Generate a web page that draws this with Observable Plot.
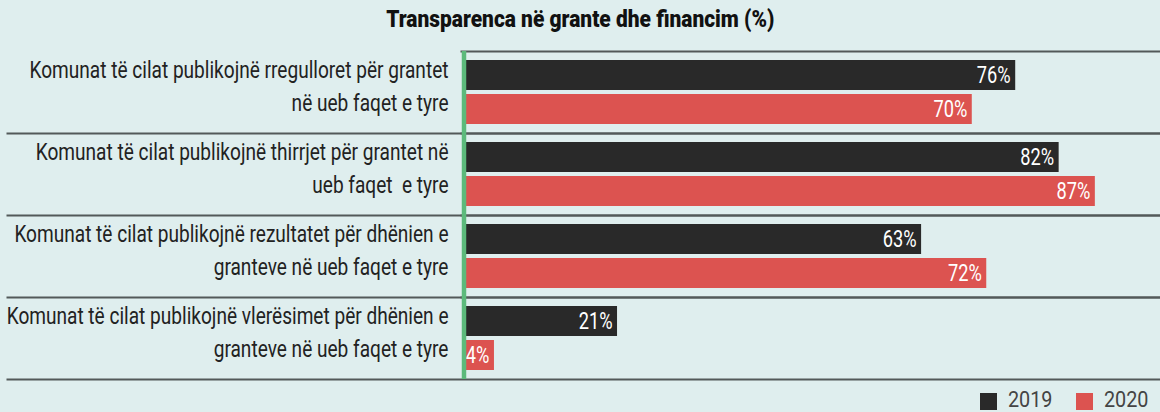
<!DOCTYPE html>
<html><head><meta charset="utf-8">
<script src="https://cdn.jsdelivr.net/npm/d3@7"></script>
<script src="https://cdn.jsdelivr.net/npm/@observablehq/plot@0.6"></script>
<style>
html,body{margin:0;padding:0;background:#dfeeee;width:1160px;height:412px;overflow:hidden;font-family:Roboto,sans-serif;}
#title{height:40px;line-height:40px;text-align:center;}
#title span{display:inline-block;font-weight:900;font-size:23px;color:#111;transform:scaleX(0.91);}
#legend{height:32px;}
#chart svg, #legend svg{display:block;}
</style></head><body>
<div id="title"><span>Transparenca në grante dhe financim (%)</span></div>
<div id="chart"></div>
<div id="legend"></div>
<script>
const categories = [
  "Komunat të cilat publikojnë rregulloret për grantet\nnë ueb faqet e tyre",
  "Komunat të cilat publikojnë thirrjet për grantet në\nueb faqet  e tyre",
  "Komunat të cilat publikojnë rezultatet për dhënien e\ngranteve në ueb faqet e tyre",
  "Komunat të cilat publikojnë vlerësimet për dhënien e\ngranteve në ueb faqet e tyre"
];
const years = ["2019", "2020"];
const values2019 = [76, 82, 63, 21];
const values2020 = [70, 87, 72, 4];
const colors = ["#292929", "#dc5350"];

const data = categories.flatMap((c, i) => [
  {category: c, year: years[0], value: values2019[i]},
  {category: c, year: years[1], value: values2020[i]}
]);

const CONDENSE_VALUES = 0.76;
const CONDENSE_LABELS = 0.795;

const plot = Plot.plot({
  width: 1160, height: 340,
  marginTop: 10, marginBottom: 0, marginLeft: 465, marginRight: 0,
  style: {background: "transparent", fontFamily: "Roboto, sans-serif", fontSize: "24px", overflow: "visible"},
  x: {domain: [0, 96], axis: null},
  y: {domain: years, axis: null, paddingInner: 0.114, paddingOuter: 0.236},
  fy: {domain: categories, axis: null, padding: 0},
  color: {domain: years, range: colors},
  marks: [
    Plot.barX(data, {x: "value", y: "year", fy: "category", fill: "year"}),
    Plot.text(data, {x: "value", y: "year", fy: "category", text: d => d.value + "%", textAnchor: "end", dx: -5, fill: "white", fontSize: 24, className: "vals"}),
    Plot.text(categories, {fy: d => d, text: d => d, frameAnchor: "left", textAnchor: "end", dx: -17, dy: -9, fontSize: 24, lineHeight: 1.375, fill: "#222", className: "cats"}),
    Plot.frame({anchor: "bottom", stroke: "#535959", strokeWidth: 2, insetLeft: -458}),
    Plot.frame({anchor: "top", stroke: "#535959", strokeWidth: 2, insetLeft: -4}),
    Plot.ruleX([0], {stroke: "#5cba7b", strokeWidth: 4.5, dx: -1.5})
  ]
});
document.getElementById("chart").appendChild(plot);
function condense(sel, f) {
  sel.each(function() {
    const t = this.getAttribute("transform") || "";
    this.setAttribute("transform", t + ` scale(${f},1)`);
  });
}
condense(d3.select(plot).selectAll(".vals text"), CONDENSE_VALUES);
condense(d3.select(plot).selectAll(".cats text"), CONDENSE_LABELS);

// legend
const lsvg = d3.select("#legend").append("svg").attr("width", 1160).attr("height", 32);
const legendX = [980, 1076];
years.forEach((y, i) => {
  lsvg.append("rect").attr("x", legendX[i]).attr("y", 13).attr("width", 17).attr("height", 17).attr("fill", colors[i]);
  lsvg.append("text").attr("transform", `translate(${legendX[i] + 28},26.5) scale(0.9,1)`)
    .attr("font-family", "Roboto, sans-serif").attr("font-size", 22).attr("fill", "#444").text(y);
});
</script>
</body></html>
